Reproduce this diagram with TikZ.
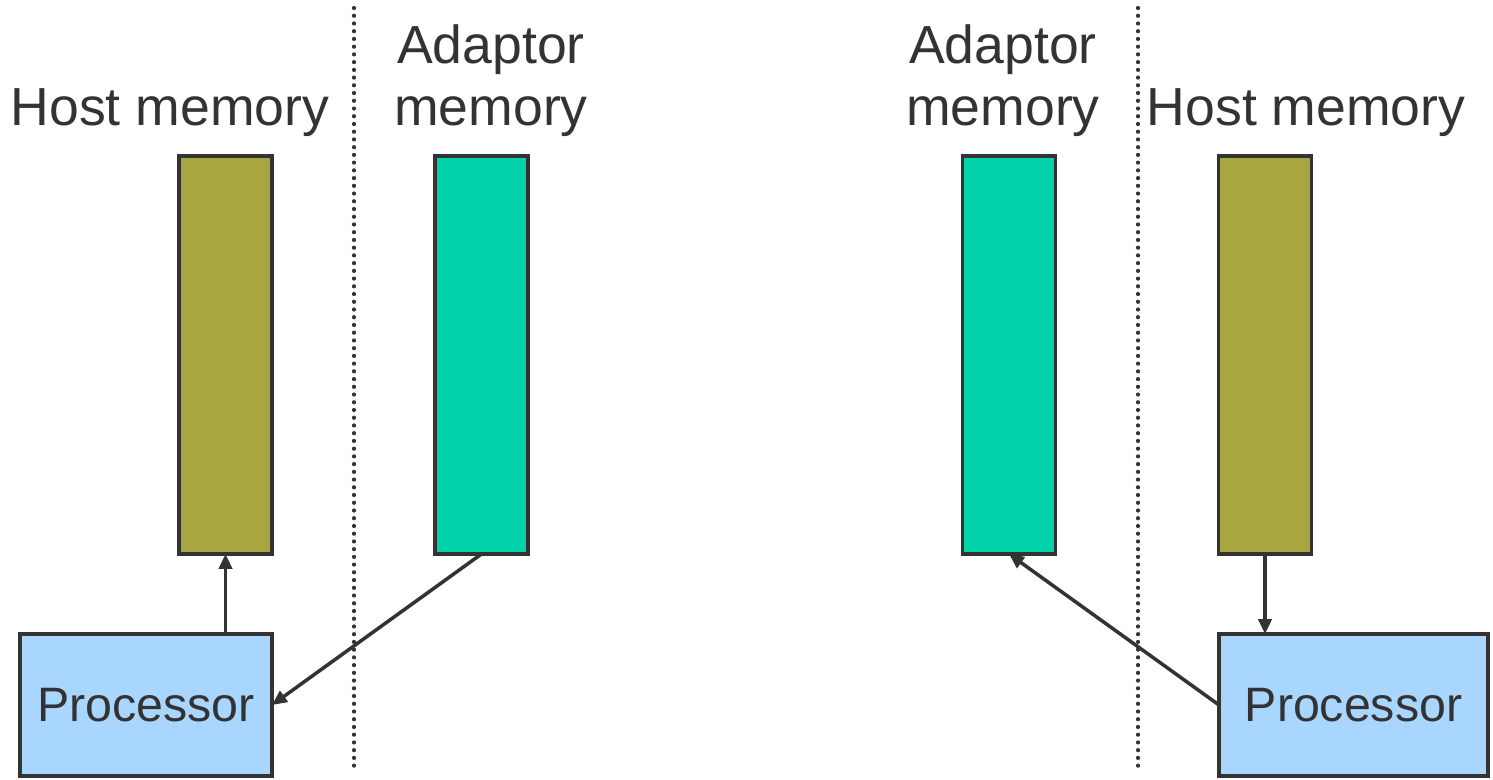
\documentclass[tikz,border=0pt]{standalone}
\usepackage{fontspec}
\setmainfont{Liberation Sans}
\usetikzlibrary{arrows.meta}
\definecolor{hostcol}{RGB}{168,166,64}
\definecolor{adaptcol}{RGB}{0,210,170}
\definecolor{proccol}{RGB}{169,214,255}
\definecolor{edgecol}{RGB}{51,51,51}
\begin{document}
\begin{tikzpicture}[x=0.02cm, y=-0.02cm, line join=miter, >={Triangle[length=8.5pt,width=7.5pt]}]
			\tikzset{bar/.style={draw=edgecol, line width=2.2pt, minimum width=1.86cm, minimum height=7.96cm, inner sep=0pt, outer sep=0pt},
			proc/.style={draw=edgecol, fill=proccol, line width=2.2pt, minimum height=2.84cm, inner sep=0pt, outer sep=0pt, text=edgecol, font=\fontsize{27.5pt}{32pt}\selectfont},
			caption/.style={text=edgecol, align=center, anchor=base, inner sep=0pt, font=\fontsize{30.5pt}{35pt}\selectfont},
			link/.style={->, draw=edgecol, line width=2pt},
			divider/.style={draw=edgecol, line width=2.4pt, line cap=round, dash pattern=on 0pt off 4.4pt}}
			\useasboundingbox (0,0) rectangle (1493,779);
			% left half
			\node[bar, fill=hostcol] (hostL) at (225.5,355) {};
			\node[bar, fill=adaptcol] (adaptL) at (481.5,355) {};
			\node[proc, minimum width=5.04cm] (procL) at (146,705) {Processor};
			\node[caption] (hostLtxt) at (170,125) {Host memory};
			\node[caption] (adaptLtxt) at (491,125) {Adaptor\\memory};
			\draw[divider] (354,8)--(354,773);
			\draw[link] (procL.north -| hostL.south)--(hostL.south);
			\draw[link] (adaptL.south)--(procL.east);
			% right half
			\node[bar, fill=adaptcol] (adaptR) at (1009,355) {};
			\node[bar, fill=hostcol] (hostR) at (1265,355) {};
			\node[proc, minimum width=5.38cm] (procR) at (1353.5,705) {Processor};
			\node[caption] (adaptRtxt) at (1003,125) {Adaptor\\memory};
			\node[caption] (hostRtxt) at (1306,125) {Host memory};
			\draw[divider] (1138,8)--(1138,773);
			\draw[link] (hostR.south)--(procR.north -| hostR.south);
			\draw[link] (procR.west)--(adaptR.south);
		\end{tikzpicture}
\end{document}
